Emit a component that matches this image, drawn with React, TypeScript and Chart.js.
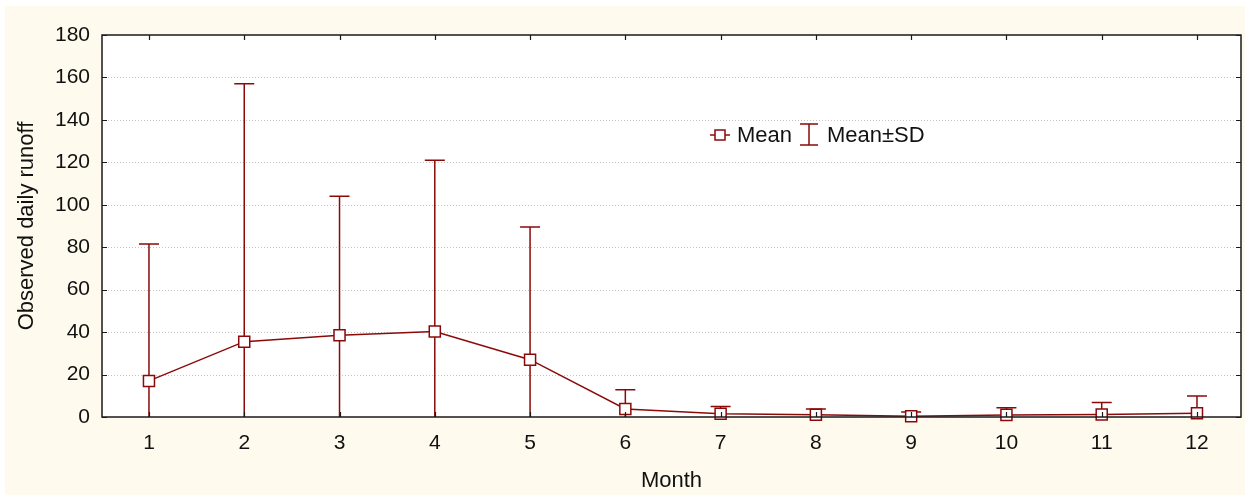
import React, { useEffect, useRef } from "react";
import { Chart, registerables } from "chart.js";

Chart.register(...registerables);

const months = [1, 2, 3, 4, 5, 6, 7, 8, 9, 10, 11, 12];
const meanValues = [17, 35.5, 38.5, 40.3, 27, 3.8, 1.5, 1.1, 0.4, 1.0, 1.2, 1.8];
const sdValues = [64.5, 121.5, 65.5, 80.7, 62.5, 9.0, 3.5, 2.7, 2.0, 3.3, 5.6, 8.1];
const yTicks = [0, 20, 40, 60, 80, 100, 120, 140, 160, 180];

const RED = "#8A0A0A";
const FONT = "'Liberation Sans', Arial, sans-serif";

export default function App() {
  const ref = useRef<HTMLCanvasElement | null>(null);

  useEffect(() => {
    document.body.style.margin = "0";
    const canvas = ref.current!;
    const bgPlugin = {
      id: "bgPlugin",
      beforeDraw(chart: any) {
        const { ctx, chartArea: a } = chart;
        const ys = chart.scales.y;
        ctx.save();
        ctx.fillStyle = "#ffffff";
        ctx.fillRect(0, 0, chart.width, chart.height);
        ctx.fillStyle = "#FFFAEE";
        ctx.fillRect(5, 6, 1240, 489);
        ctx.fillStyle = "#ffffff";
        ctx.fillRect(a.left, a.top, a.right - a.left, a.bottom - a.top);
        ctx.strokeStyle = "#c4c4c4";
        ctx.lineWidth = 1;
        ctx.setLineDash([1, 2]);
        for (const v of yTicks) {
          if (v === 0 || v === 180) continue;
          const y = Math.round(ys.getPixelForValue(v)) + 0.5;
          ctx.beginPath();
          ctx.moveTo(a.left, y);
          ctx.lineTo(a.right, y);
          ctx.stroke();
        }
        ctx.restore();
      },
      beforeDatasetsDraw(chart: any) {
        const { ctx, chartArea: a } = chart;
        const xs = chart.scales.x;
        const ys = chart.scales.y;
        ctx.save();
        ctx.beginPath();
        ctx.rect(a.left, a.top, a.right - a.left, a.bottom - a.top);
        ctx.clip();
        ctx.strokeStyle = RED;
        ctx.lineWidth = 1.5;
        meanValues.forEach((m, i) => {
          const x = xs.getPixelForValue(months[i]);
          const yu = ys.getPixelForValue(m + sdValues[i]);
          const yl = ys.getPixelForValue(m - sdValues[i]);
          ctx.beginPath();
          ctx.moveTo(x, yu);
          ctx.lineTo(x, yl);
          ctx.moveTo(x - 10, yu);
          ctx.lineTo(x + 10, yu);
          ctx.moveTo(x - 10, yl);
          ctx.lineTo(x + 10, yl);
          ctx.stroke();
        });
        ctx.restore();
      },
      afterDraw(chart: any) {
        const { ctx, chartArea: a } = chart;
        const xs = chart.scales.x;
        const ys = chart.scales.y;
        ctx.save();
        ctx.strokeStyle = "#1a1a1a";
        ctx.lineWidth = 1.5;
        ctx.strokeRect(a.left, a.top, a.right - a.left, a.bottom - a.top);
        ctx.lineWidth = 1.2;
        ctx.beginPath();
        months.forEach((v) => {
          const x = Math.round(xs.getPixelForValue(v)) + 0.5;
          ctx.moveTo(x, a.top);
          ctx.lineTo(x, a.top + 5);
          ctx.moveTo(x, a.bottom);
          ctx.lineTo(x, a.bottom - 5);
        });
        yTicks.forEach((v) => {
          const y = Math.round(ys.getPixelForValue(v)) + 0.5;
          ctx.moveTo(a.left, y);
          ctx.lineTo(a.left + 5, y);
          ctx.moveTo(a.right, y);
          ctx.lineTo(a.right - 5, y);
        });
        ctx.stroke();

        // axis titles
        ctx.fillStyle = "#111";
        ctx.font = `22px ${FONT}`;
        ctx.textAlign = "center";
        ctx.textBaseline = "middle";
        ctx.fillText("Month", (a.left + a.right) / 2, 481);
        ctx.save();
        ctx.translate(27, (a.top + a.bottom) / 2);
        ctx.rotate(-Math.PI / 2);
        ctx.fillText("Observed daily runoff", 0, 0);
        ctx.restore();

        // legend
        const lx = 720, ly = 135;
        ctx.strokeStyle = RED;
        ctx.lineWidth = 1.5;
        ctx.beginPath();
        ctx.moveTo(lx - 10, ly);
        ctx.lineTo(lx + 10, ly);
        ctx.stroke();
        ctx.fillStyle = "#ffffff";
        ctx.fillRect(lx - 5, ly - 5, 10, 10);
        ctx.strokeRect(lx - 5, ly - 5, 10, 10);
        ctx.fillStyle = "#111";
        ctx.textAlign = "left";
        ctx.fillText("Mean", 737, ly + 1);
        const ex = 809;
        ctx.beginPath();
        ctx.moveTo(ex, 124);
        ctx.lineTo(ex, 145);
        ctx.moveTo(ex - 9, 124);
        ctx.lineTo(ex + 9, 124);
        ctx.moveTo(ex - 9, 145);
        ctx.lineTo(ex + 9, 145);
        ctx.stroke();
        ctx.fillText("Mean±SD", 827, ly + 1);
        ctx.restore();
      },
    };

    const chart = new Chart(canvas, {
      type: "line",
      data: {
        datasets: [
          {
            label: "Mean",
            data: months.map((m, i) => ({ x: m, y: meanValues[i] })),
            borderColor: RED,
            borderWidth: 1.5,
            backgroundColor: "#ffffff",
            pointStyle: "rect",
            pointRadius: 7.8,
            pointBorderWidth: 1.5,
            pointBackgroundColor: "#ffffff",
            pointBorderColor: RED,
            tension: 0,
            clip: false as any,
          },
        ],
      },
      options: {
        responsive: false,
        animation: false,
        layout: { autoPadding: false, padding: { left: 0, top: 35, right: 6, bottom: 0 } },
        plugins: {
          legend: { display: false },
          tooltip: { enabled: false },
          title: { display: false },
        },
        scales: {
          x: {
            type: "linear",
            min: 0.507,
            max: 12.462,
            grid: { display: false, drawTicks: false },
            border: { display: false },
            afterBuildTicks: (s: any) => {
              s.ticks = months.map((v) => ({ value: v }));
            },
            ticks: {
              padding: 14,
              color: "#111",
              font: { family: FONT, size: 21 },
              maxRotation: 0,
              autoSkip: false,
            },
            afterFit: (s: any) => {
              s.height = 78;
            },
          },
          y: {
            type: "linear",
            min: 0,
            max: 180,
            grid: { display: false, drawTicks: false },
            border: { display: false },
            afterBuildTicks: (s: any) => {
              s.ticks = yTicks.map((v) => ({ value: v }));
            },
            ticks: {
              padding: 12,
              color: "#111",
              font: { family: FONT, size: 21 },
            },
            afterFit: (s: any) => {
              s.width = 102;
            },
          },
        },
      },
      plugins: [bgPlugin],
    });
    return () => chart.destroy();
  }, []);

  return (
    <canvas
      ref={ref}
      width={1247}
      height={495}
      style={{ display: "block", width: 1247, height: 495 }}
    />
  );
}
